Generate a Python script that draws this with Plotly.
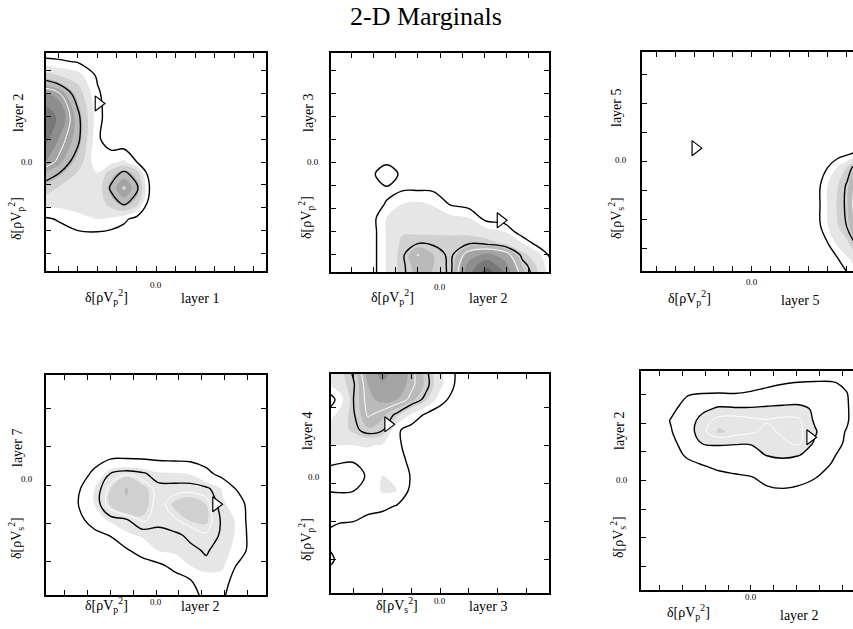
import math
import plotly.graph_objects as go

W, H = 853, 629
FONT = "Liberation Serif"
TITLE = "2-D Marginals"

# Fill colours for density bands (below 2, 2-3, 3-4, ... , >9)
FILL_COLORS = ["#ffffff", "#e6e6e6", "#d0d0d0", "#bababa", "#a4a4a4",
               "#8e8e8e", "#787878", "#626262", "#4c4c4c"]

# ---------------- panel 1 : layer 1 Vp  vs  layer 2 Vp ----------------
P1_X = [-6, -5, -4, -3, -2.3, -1.64, -0.98, -0.3, 1, 2.5, 4, 6]
P1_Y = [5, 4.4, 3.8, 3, 2, 1, 0, -0.47, -1.14, -1.81, -2.5, -3.2, -4, -5]
P1_Z = [
    [0, 0, 0, 0, 0, 0, 0, 0, 0, 0, 0, 0],
    [1.4, 1.2, 0.9, 0.2, 0, 0, 0, 0, 0, 0, 0, 0],
    [3.8, 3.0, 2.4, 0.8, 0.2, 0, 0, 0, 0, 0, 0, 0],
    [6.3, 5.7, 3.6, 1.2, 0.3, 0, 0, 0, 0, 0, 0, 0],
    [8.3, 6.8, 4.6, 1.4, 0.3, 0, 0, 0, 0, 0, 0, 0],
    [8.0, 6.0, 4.6, 1.2, 0.35, 0.1, 0, 0, 0, 0, 0, 0],
    [6.3, 5.3, 3.6, 1.3, 1.7, 2.2, 1.0, 0, 0, 0, 0, 0],
    [5.2, 4.4, 2.9, 2.0, 3.5, 4.6, 3.5, 0, 0, 0, 0, 0],
    [4.0, 2.9, 2.4, 2.2, 4.6, 5.6, 4.6, 0.8, 0, 0, 0, 0],
    [2.6, 2.4, 2.3, 2.3, 3.5, 4.6, 3.5, 0.2, 0, 0, 0, 0],
    [0.7, 1.1, 1.8, 2.0, 1.8, 1.3, 0.5, 0, 0, 0, 0, 0],
    [0.3, 0.5, 0.7, 0.75, 0.6, 0.3, 0.1, 0, 0, 0, 0, 0],
    [0, 0, 0, 0, 0, 0, 0, 0, 0, 0, 0, 0],
    [0, 0, 0, 0, 0, 0, 0, 0, 0, 0, 0, 0],
]

# ---------------- panel 2 : layer 2 Vp  vs  layer 3 Vp ----------------
P2_X = [-5, -4, -3.1, -2.4, -1.7, -1.0, -0.3, 0.5, 1.3, 2.1, 2.9, 3.7, 4.4, 5.1]
P2_Y = [5, 2, 0.3, -0.5, -1.2, -1.8, -2.4, -3.0, -3.5, -4.0, -4.5, -5.1]
P2_Z = [
    [0, 0, 0, 0, 0, 0, 0, 0, 0, 0, 0, 0, 0, 0],
    [0, 0, 0, 0, 0, 0, 0, 0, 0, 0, 0, 0, 0, 0],
    [0, 0, 0.5, 0.6, 0.5, 0.2, 0, 0, 0, 0, 0, 0, 0, 0],
    [0, 0.2, 0.85, 1.4, 0.85, 0.4, 0.2, 0.1, 0, 0, 0, 0, 0, 0],
    [0, 0.2, 0.6, 0.87, 0.95, 0.97, 0.9, 0.6, 0.3, 0.1, 0, 0, 0, 0],
    [0, 0.2, 0.7, 1.05, 2.0, 2.2, 1.9, 0.85, 0.5, 0.2, 0, 0, 0, 0],
    [0, 0.3, 0.5, 2.0, 2.7, 2.6, 2.5, 2.3, 2.0, 0.5, 0.3, 0, 0, 0],
    [0, 0.3, 0.4, 2.1, 2.9, 2.8, 2.8, 2.8, 2.75, 2.5, 2.0, 0.2, 0.1, 0],
    [0, 0.3, 0.4, 2.1, 3.2, 3.55, 3.5, 3.4, 3.5, 3.3, 2.85, 2.05, 0.4, 0],
    [0, 0.3, 0.4, 2.1, 3.4, 4.85, 4.0, 3.4, 5.4, 6.3, 5.5, 3.3, 2.4, 0.2],
    [0, 0.3, 0.4, 2.1, 3.4, 4.4, 4.0, 3.45, 6.5, 7.8, 6.5, 4.0, 2.9, 1.0],
    [0, 0.3, 0.4, 2.1, 3.4, 4.2, 3.9, 3.5, 7.0, 9.3, 7.5, 4.6, 3.1, 1.3],
]

# ---------------- panel 3 : layer 5 Vp  vs  layer 5 Vs ----------------
P3_X = [-6, -4, -2, 0, 2, 3, 3.5, 4, 4.5, 5, 5.5, 6, 6.5]
P3_Y = [4, 2, 0.8, 0.3, -0.2, -0.8, -1.5, -2.2, -2.8, -3.3, -4]
P3_Z = [
    [0, 0, 0, 0, 0, 0, 0, 0, 0, 0, 0, 0, 0],
    [0, 0, 0, 0, 0, 0, 0, 0, 0, 0, 0, 0, 0],
    [0, 0, 0, 0, 0, 0, 0, 0, 0, 0.2, 0.5, 0.8, 1.1],
    [0, 0, 0, 0, 0, 0, 0, 0.1, 0.3, 0.6, 1.2, 1.8, 2.4],
    [0, 0, 0, 0, 0, 0.1, 0.4, 1.0, 2.0, 3.0, 4.2, 5.0, 5.6],
    [0, 0, 0, 0, 0, 0.2, 0.7, 2.0, 2.9, 3.8, 4.8, 5.8, 6.4],
    [0, 0, 0, 0, 0, 0.2, 0.75, 2.1, 3.1, 3.9, 5.0, 6.0, 6.8],
    [0, 0, 0, 0, 0, 0.2, 0.7, 2.0, 2.95, 3.75, 4.7, 5.6, 6.3],
    [0, 0, 0, 0, 0, 0, 0.3, 1.0, 2.3, 2.8, 3.9, 4.9, 5.6],
    [0, 0, 0, 0, 0, 0, 0, 0.4, 1.0, 1.9, 2.8, 3.6, 4.2],
    [0, 0, 0, 0, 0, 0, 0, 0, 0, 0.6, 1.2, 1.8, 2.4],
]

# ---------------- panel 4 : layer 2 Vp  vs  layer 7 Vs ----------------
P4_X = [-5, -4.2, -3.4, -2.7, -2.0, -1.3, -0.6, 0.1, 0.8, 1.5, 2.2, 2.9, 3.6, 4.3, 5.0]
P4_Y = [3, 2, 1.2, 0.7, 0.3, -0.1, -0.5, -0.9, -1.3, -1.7, -2.1, -2.5, -3.0]
P4_Z = [
    [0, 0, 0, 0, 0, 0, 0, 0, 0, 0, 0, 0, 0, 0, 0],
    [0, 0, 0, 0, 0, 0, 0, 0, 0, 0, 0, 0, 0, 0, 0],
    [0, 0, 0, 0, 0, 0, 0, 0, 0, 0, 0, 0, 0, 0, 0],
    [0, 0, 0.2, 0.6, 0.9, 0.95, 0.9, 0.8, 0.75, 0.7, 0.5, 0.2, 0, 0, 0],
    [0, 0.1, 0.5, 1.2, 2.4, 2.7, 2.5, 2.1, 2.05, 1.95, 1.3, 0.6, 0.2, 0, 0],
    [0, 0.3, 0.85, 2.0, 3.0, 4.1, 3.2, 2.6, 2.6, 2.65, 2.55, 1.95, 0.8, 0.2, 0],
    [0, 0.35, 1.0, 2.0, 3.1, 3.9, 3.3, 2.55, 3.1, 3.3, 3.0, 2.1, 1.7, 0, 0],
    [0, 0.2, 0.7, 1.5, 2.2, 2.35, 2.9, 2.6, 2.75, 3.05, 3.1, 2.3, 1.9, 0, 0],
    [0, 0, 0.3, 0.7, 1.05, 1.9, 2.1, 2.2, 2.3, 2.5, 2.75, 2.3, 1.9, 0.2, 0],
    [0, 0, 0, 0.2, 0.5, 0.85, 1.5, 2.05, 2.2, 2.3, 2.45, 2.2, 1.8, 0.2, 0],
    [0, 0, 0, 0, 0, 0.2, 0.45, 0.75, 1.3, 2.0, 2.3, 2.2, 0.8, 0, 0],
    [0, 0, 0, 0, 0, 0, 0, 0.2, 0.5, 0.9, 1.6, 1.5, 0.4, 0, 0],
    [0, 0, 0, 0, 0, 0, 0, 0, 0.2, 0.6, 1.2, 1.1, 0.3, 0, 0],
]

# ---------------- panel 5 : layer 3 Vs  vs  layer 4 Vp ----------------
P5_X = [-4, -3.5, -3, -2.5, -2, -1.5, -1, -0.5, 0, 0.5, 1, 2, 3, 4]
P5_Y = [3.1, 2.6, 2.2, 1.8, 1.4, 1.0, 0.6, 0.2, -0.2, -0.6, -1.0, -1.5, -2.0, -2.5, -3.0]
P5_Z = [
    [2.3, 2.8, 3.8, 5.5, 6.5, 5.8, 4.7, 3.6, 2.1, 1.0, 0.4, 0, 0, 0],
    [1.8, 2.6, 3.4, 5.0, 5.9, 5.6, 4.7, 3.9, 2.3, 1.0, 0.4, 0, 0, 0],
    [0.0, 1.4, 3.5, 4.8, 5.2, 5.0, 4.3, 3.2, 1.5, 0.5, 0.2, 0, 0, 0],
    [1.2, 2.3, 3.4, 4.6, 4.2, 3.3, 1.9, 0.8, 0.3, 0.1, 0, 0, 0, 0],
    [2.2, 2.6, 3.2, 3.9, 3.6, 1.2, 0.5, 0.1, 0, 0, 0, 0, 0, 0],
    [2.1, 2.0, 2.0, 2.1, 1.9, 1.2, 0.6, 0.1, 0, 0, 0, 0, 0, 0],
    [1.3, 1.1, 1.05, 1.4, 1.6, 1.5, 0.7, 0.1, 0, 0, 0, 0, 0, 0],
    [0.6, 0.6, 0.65, 1.1, 2.0, 1.5, 0.95, 0.1, 0, 0, 0, 0, 0, 0],
    [1.0, 0.95, 1.0, 1.3, 2.1, 2.05, 0.7, 0.1, 0, 0, 0, 0, 0, 0],
    [1.5, 1.45, 1.4, 1.35, 1.3, 0.9, 0.3, 0, 0, 0, 0, 0, 0, 0],
    [1.1, 1.05, 1.0, 0.7, 0.4, 0.2, 0, 0, 0, 0, 0, 0, 0, 0],
    [0.9, 0.5, 0.3, 0.1, 0, 0, 0, 0, 0, 0, 0, 0, 0, 0],
    [1.4, 0.8, 0.3, 0.1, 0, 0, 0, 0, 0, 0, 0, 0, 0, 0],
    [0.6, 0.3, 0.1, 0, 0, 0, 0, 0, 0, 0, 0, 0, 0, 0],
    [0, 0, 0, 0, 0, 0, 0, 0, 0, 0, 0, 0, 0, 0],
]

# ---------------- panel 6 : layer 2 Vp  vs  layer 2 Vs ----------------
P6_X = [-5, -4.2, -3.5, -2.8, -2.1, -1.4, -0.7, 0, 0.7, 1.4, 2.1, 2.8, 3.5, 4.2, 5]
P6_Y = [4, 3.4, 3.0, 2.5, 2.1, 1.7, 1.3, 0.9, 0.5, 0.1, -0.4, -1, -2, -4]
P6_Z = [
    [0, 0, 0, 0, 0, 0, 0, 0, 0, 0, 0, 0, 0, 0, 0],
    [0, 0, 0, 0, 0, 0.3, 0.5, 0.6, 0.8, 0.95, 1.05, 1.1, 1.1, 0.85, 0],
    [0, 0, 0.4, 0.95, 1.1, 1.1, 1.05, 1.15, 1.3, 1.4, 1.5, 1.55, 1.5, 1.05, 0.2],
    [0, 0.3, 0.8, 1.35, 1.8, 2.15, 2.1, 2.1, 2.15, 2.2, 2.2, 1.9, 1.5, 1.1, 0.2],
    [0, 0.5, 1.05, 1.5, 2.35, 2.8, 2.9, 2.75, 2.65, 2.75, 2.7, 1.9, 1.5, 1.1, 0.2],
    [0, 0.3, 0.95, 1.6, 2.45, 3.1, 2.85, 2.7, 2.45, 2.7, 2.75, 2.1, 1.4, 0.95, 0.2],
    [0, 0.2, 0.7, 1.5, 2.05, 2.1, 2.05, 2.05, 2.3, 2.5, 2.7, 1.9, 1.3, 0.9, 0.1],
    [0, 0, 0.4, 1.2, 1.5, 1.6, 1.65, 1.7, 2.05, 2.2, 2.05, 1.7, 1.2, 0.6, 0],
    [0, 0, 0.1, 0.6, 0.95, 1.2, 1.3, 1.4, 1.5, 1.55, 1.5, 1.35, 0.95, 0.3, 0],
    [0, 0, 0, 0.2, 0.5, 0.7, 0.85, 0.95, 1.2, 1.3, 1.25, 1.05, 0.5, 0, 0],
    [0, 0, 0, 0, 0.1, 0.2, 0.4, 0.6, 0.85, 0.9, 0.8, 0.5, 0.1, 0, 0],
    [0, 0, 0, 0, 0, 0, 0, 0, 0.2, 0.3, 0.2, 0, 0, 0, 0],
    [0, 0, 0, 0, 0, 0, 0, 0, 0, 0, 0, 0, 0, 0, 0],
    [0, 0, 0, 0, 0, 0, 0, 0, 0, 0, 0, 0, 0, 0, 0],
]

# contour line levels per panel: outer black, inner black, white
OUTER_LEVEL = 1.0
INNER_LEVELS = [4.3, 3.6, 3.7, 2.4, 3.5, 2.0]
WHITE_LEVELS = [5.5, 4.8, 4.6, 2.8, 4.5, 2.6]

# true-model markers (triangles)
TRI_X = [-2.95, 2.72, -2.98, 2.63, -1.8, 2.6]
TRI_Y = [2.57, -2.51, 0.46, -0.5, 1.55, 1.51]

# axis labels
X_VARS = ["p", "p", "p", "p", "s", "p"]
Y_VARS = ["p", "p", "s", "s", "p", "s"]
X_LAYERS = ["layer 1", "layer 2", "layer 5", "layer 2", "layer 3", "layer 2"]
Y_LAYERS = ["layer 2", "layer 3", "layer 5", "layer 7", "layer 4", "layer 2"]
ZERO_LABEL = "0.0"

# axis ranges
X_RANGES = [[-5.64, 5.64], [-4.9, 4.9], [-5.79, 5.33], [-4.82, 4.82], [-3.78, 3.78], [-4.82, 4.48]]
Y_RANGES = [[-4.78, 4.78], [-4.75, 4.75], [-3.77, 3.77], [-2.86, 2.86], [-2.87, 2.87], [-3.82, 3.82]]

# ---------------- layout geometry (pixels) ----------------
BOXES = [(46, 53, 266, 271), (331, 53, 549, 272), (642, 52, 853, 271),
         (46, 375, 266, 595), (331, 374, 549, 593), (641, 371, 853, 590)]
XLAB_POS = [((106, 297), (200, 298)), ((392, 297), (488, 298)), ((689, 298), (800, 300)),
            ((106, 605), (200, 606)), ((397, 605), (488, 606)), ((688, 612), (799, 615))]
YLAB_POS = [((18, 113), (16, 218)), ((308, 113), (306, 218)), ((616, 108), (616, 218)),
            ((18, 448), (16, 538)), ((307, 431), (306, 540)), ((619, 431), (618, 537))]
XZERO_Y = [285, 287, 282, 602, 601, 597]
YZERO_POS = [(27, 162), (313, 162), (621, 160), (27, 479), (314, 477), (622, 480)]
RIGHT_CUT = [False, False, True, False, False, True]

PANELS = [(P1_X, P1_Y, P1_Z), (P2_X, P2_Y, P2_Z), (P3_X, P3_Y, P3_Z),
          (P4_X, P4_Y, P4_Z), (P5_X, P5_Y, P5_Z), (P6_X, P6_Y, P6_Z)]

n = len(FILL_COLORS) - 1
FILL_SCALE = [[k / n, c] for k, c in enumerate(FILL_COLORS)]

fig = go.Figure()
layout = dict(width=W, height=H, margin=dict(l=0, r=0, t=0, b=0),
              paper_bgcolor="white", plot_bgcolor="white", showlegend=False)
annotations = []


def delta_label(v):
    return "δ[ρV<sub>%s</sub><sup>2</sup>]" % v


def int_ticks(rng):
    return list(range(math.ceil(rng[0]), math.floor(rng[1]) + 1))


def text(x, y, s, size=14, angle=0, xref="paper", yref="paper"):
    return dict(x=x, y=y, xref=xref, yref=yref, text=s, showarrow=False,
                textangle=angle, xanchor="center", yanchor="middle",
                font=dict(family=FONT, size=size, color="black"))


for i, (X, Y, Z) in enumerate(PANELS):
    k = i + 1
    xa = "x" if k == 1 else "x%d" % k
    ya = "y" if k == 1 else "y%d" % k
    ys = Y[::-1]
    zs = Z[::-1]
    fig.add_trace(go.Contour(
        x=X, y=ys, z=zs, xaxis=xa, yaxis=ya, autocontour=False,
        contours=dict(start=2, end=9, size=1, coloring="fill", showlines=False),
        colorscale=FILL_SCALE, showscale=False,
        line=dict(width=0, smoothing=1.0), hoverinfo="skip"))
    fig.add_trace(go.Contour(
        x=X, y=ys, z=zs, xaxis=xa, yaxis=ya, autocontour=False,
        contours=dict(start=OUTER_LEVEL, end=INNER_LEVELS[i],
                      size=INNER_LEVELS[i] - OUTER_LEVEL, coloring="none"),
        line=dict(color="black", width=1.4, smoothing=1.0), showscale=False, hoverinfo="skip"))
    fig.add_trace(go.Contour(
        x=X, y=ys, z=zs, xaxis=xa, yaxis=ya, autocontour=False,
        contours=dict(start=WHITE_LEVELS[i], end=WHITE_LEVELS[i], size=1, coloring="none"),
        line=dict(color="white", width=1.0, smoothing=1.0), showscale=False, hoverinfo="skip"))
    fig.add_trace(go.Scatter(
        x=[TRI_X[i]], y=[TRI_Y[i]], xaxis=xa, yaxis=ya, mode="markers",
        marker=dict(symbol="triangle-right", size=13, color="white",
                    line=dict(color="black", width=1.2)), hoverinfo="skip"))

    l, t, r, b = BOXES[i]
    common = dict(showline=True, linecolor="black", linewidth=2, ticks="inside",
                  ticklen=5, tickwidth=1, tickcolor="black", showgrid=False,
                  zeroline=False, fixedrange=True, showticklabels=False)
    layout["xaxis" if k == 1 else "xaxis%d" % k] = dict(
        common, domain=[l / W, r / W], range=X_RANGES[i], mirror="ticks",
        tickvals=int_ticks(X_RANGES[i]), anchor=ya)
    layout["yaxis" if k == 1 else "yaxis%d" % k] = dict(
        common, domain=[1 - b / H, 1 - t / H], range=Y_RANGES[i],
        mirror=False if RIGHT_CUT[i] else "ticks",
        tickvals=int_ticks(Y_RANGES[i]), anchor=xa)

    # "0.0" labels at the zero ticks
    annotations.append(text(0, 1 - XZERO_Y[i] / H, ZERO_LABEL, size=9, xref=xa))
    zx, zy = YZERO_POS[i]
    annotations.append(text(zx / W, 1 - zy / H, ZERO_LABEL, size=9))

    (dx, dy), (lx, ly) = XLAB_POS[i]
    annotations.append(text(dx / W, 1 - dy / H, delta_label(X_VARS[i])))
    annotations.append(text(lx / W, 1 - ly / H, X_LAYERS[i]))
    (yx1, yy1), (yx2, yy2) = YLAB_POS[i]
    annotations.append(text(yx1 / W, 1 - yy1 / H, Y_LAYERS[i], angle=-90))
    annotations.append(text(yx2 / W, 1 - yy2 / H, delta_label(Y_VARS[i]), angle=-90))

annotations.append(text(426 / W, 1 - 17 / H, TITLE, size=26))
layout["annotations"] = annotations
fig.update_layout(**layout)
fig.write_html("out.html")
